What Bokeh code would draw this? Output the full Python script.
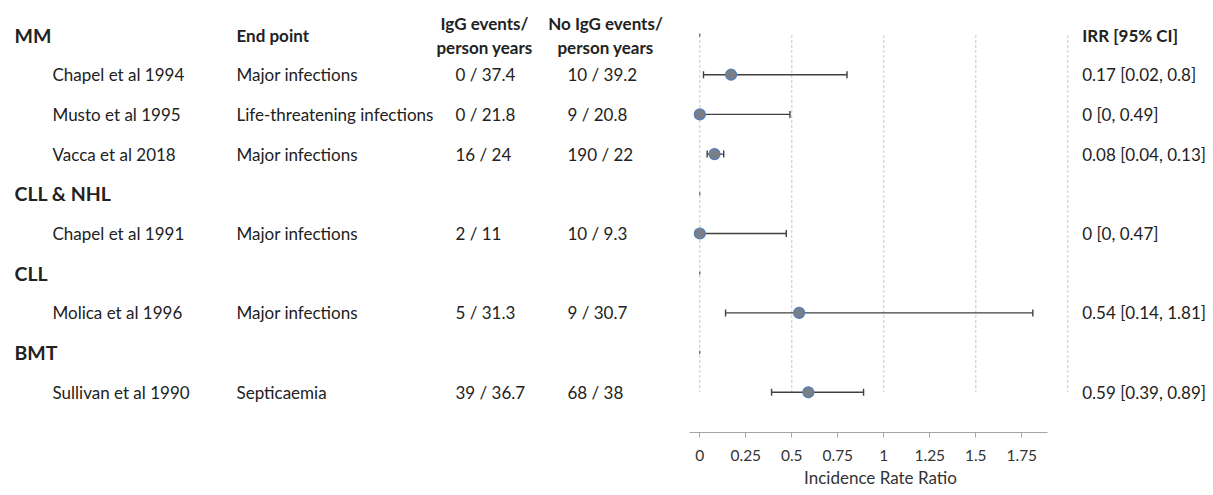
from bokeh.plotting import figure
from bokeh.layouts import row
from bokeh.models import Range1d, FixedTicker, ColumnDataSource, Whisker, TeeHead, LinearAxis
from bokeh.core.properties import value
from bokeh.embed import file_html
from bokeh.resources import INLINE

# ---------------- data ----------------
group_labels = ["MM", "CLL & NHL", "CLL", "BMT"]
group_rows = [0, 4, 6, 8]

studies = ["Chapel et al 1994", "Musto et al 1995", "Vacca et al 2018",
           "Chapel et al 1991", "Molica et al 1996", "Sullivan et al 1990"]
study_rows = [1, 2, 3, 5, 7, 9]
end_points = ["Major infections", "Life-threatening infections", "Major infections",
              "Major infections", "Major infections", "Septicaemia"]
igg_events = ["0 / 37.4", "0 / 21.8", "16 / 24", "2 / 11", "5 / 31.3", "39 / 36.7"]
no_igg_events = ["10 / 39.2", "9 / 20.8", "190 / 22", "10 / 9.3", "9 / 30.7", "68 / 38"]
irr = [0.17, 0.0, 0.08, 0.0, 0.54, 0.59]
ci_low = [0.02, 0.0, 0.04, 0.0, 0.14, 0.39]
ci_high = [0.80, 0.49, 0.13, 0.47, 1.81, 0.89]
irr_labels = [f"{v:g} [{l:g}, {h:g}]" for v, l, h in zip(irr, ci_low, ci_high)]

x_ticks = [0, 0.25, 0.5, 0.75, 1, 1.25, 1.5, 1.75]
grid_lines = [0, 0.5, 1, 1.5, 2]

# ---------------- layout ----------------
FONT = "Lato"
TXT = "#222222"
H = 494
PX0 = 699.3      # page x of IRR = 0
PXU = 184.0      # pixels per IRR unit
ROW0 = 34.5      # page y of row 0
ROWH = 39.7      # row spacing
FRAME_BOTTOM = 432
A_END = 689      # right edge of table panel
B_END = 1071     # right edge of forest panel
TOTAL = 1208

y_range = Range1d((FRAME_BOTTOM - ROW0) / ROWH, (0 - ROW0) / ROWH)


def make_fig(width, x_range):
    f = figure(width=width, height=H, output_backend="svg", toolbar_location=None,
               x_range=x_range, y_range=y_range,
               min_border_left=0, min_border_right=0, min_border_top=0,
               min_border_bottom=H - FRAME_BOTTOM, y_axis_location=None,
               x_axis_location=None)
    f.outline_line_color = None
    f.xgrid.visible = False
    f.ygrid.visible = False
    f.background_fill_color = "white"
    f.border_fill_color = "white"
    return f


def txt(f, x, y, t, size="17px", style="normal", align="left", yoff=0):
    f.text(x=x, y=y, text=t, text_font=value(FONT), text_font_size=size,
           text_font_style=style, text_color=TXT, text_align=align,
           text_baseline="middle", y_offset=yoff)


# ---- table panel (page-pixel x coordinates) ----
pa = make_fig(A_END, Range1d(0, A_END))
n = len(studies)
txt(pa, [14] * len(group_labels), group_rows, group_labels, size="19.5px", style="bold")
txt(pa, [52] * n, study_rows, studies)
txt(pa, [236] * n, study_rows, end_points)
txt(pa, [455] * n, study_rows, igg_events)
txt(pa, [567] * n, study_rows, no_igg_events)
hdr = group_rows[0]
txt(pa, [236], [hdr], ["End point"], style="bold")
txt(pa, [484], [hdr], ["IgG events/"], style="bold", align="center", yoff=-12)
txt(pa, [484], [hdr], ["person years"], style="bold", align="center", yoff=12)
txt(pa, [605], [hdr], ["No IgG events/"], style="bold", align="center", yoff=-12)
txt(pa, [605], [hdr], ["person years"], style="bold", align="center", yoff=12)

# ---- forest panel (IRR units) ----
pb = make_fig(B_END - A_END, Range1d((A_END - PX0) / PXU, (B_END - PX0) / PXU))
ax = LinearAxis(ticker=FixedTicker(ticks=x_ticks), bounds=(-0.054, 1.888))
ax.axis_line_color = "#a6a6a6"
ax.major_tick_line_color = "#a6a6a6"
ax.major_tick_out = 5
ax.major_tick_in = 0
ax.minor_tick_line_color = None
ax.major_label_text_font = FONT
ax.major_label_text_font_size = "15.5px"
ax.major_label_text_color = "#333333"
ax.major_label_standoff = 12
ax.axis_label = "Incidence Rate Ratio"
ax.axis_label_text_font = FONT
ax.axis_label_text_font_size = "17px"
ax.axis_label_text_font_style = "normal"
ax.axis_label_text_color = "#333333"
ax.axis_label_standoff = 3
pb.add_layout(ax, "below")

pb.segment(x0=grid_lines, x1=grid_lines, y0=[group_rows[0]] * len(grid_lines),
           y1=[study_rows[-1]] * len(grid_lines), line_color="#c8c8c8",
           line_dash="3 2", line_width=1)
pb.scatter(x=[0] * len(group_rows), y=group_rows, marker="dash", angle=1.5708,
           size=3, line_color="#404040", line_width=1)

src = ColumnDataSource(dict(y=study_rows, lo=ci_low, hi=ci_high, irr=irr))
pb.segment(x0="lo", x1="hi", y0="y", y1="y", source=src, line_color="#404040", line_width=1.4)
wh = Whisker(source=src, base="y", lower="lo", upper="hi", dimension="width",
             line_alpha=0,
             lower_head=TeeHead(size=7, line_color="#404040", line_width=1.4),
             upper_head=TeeHead(size=7, line_color="#404040", line_width=1.4))
pb.add_layout(wh)
pb.scatter(x="irr", y="y", source=src, size=11, fill_color="#7a7e85",
           line_color="#4f7fbf", line_width=1.2)

# ---- IRR text panel (page-pixel x coordinates) ----
pc = make_fig(TOTAL - B_END, Range1d(B_END, TOTAL))
txt(pc, [1081.7], [hdr], ["IRR [95% CI]"], style="bold")
txt(pc, [1081.7] * n, study_rows, irr_labels)

layout = row(pa, pb, pc, spacing=0)
open("out.html", "w").write(file_html(layout, INLINE))
